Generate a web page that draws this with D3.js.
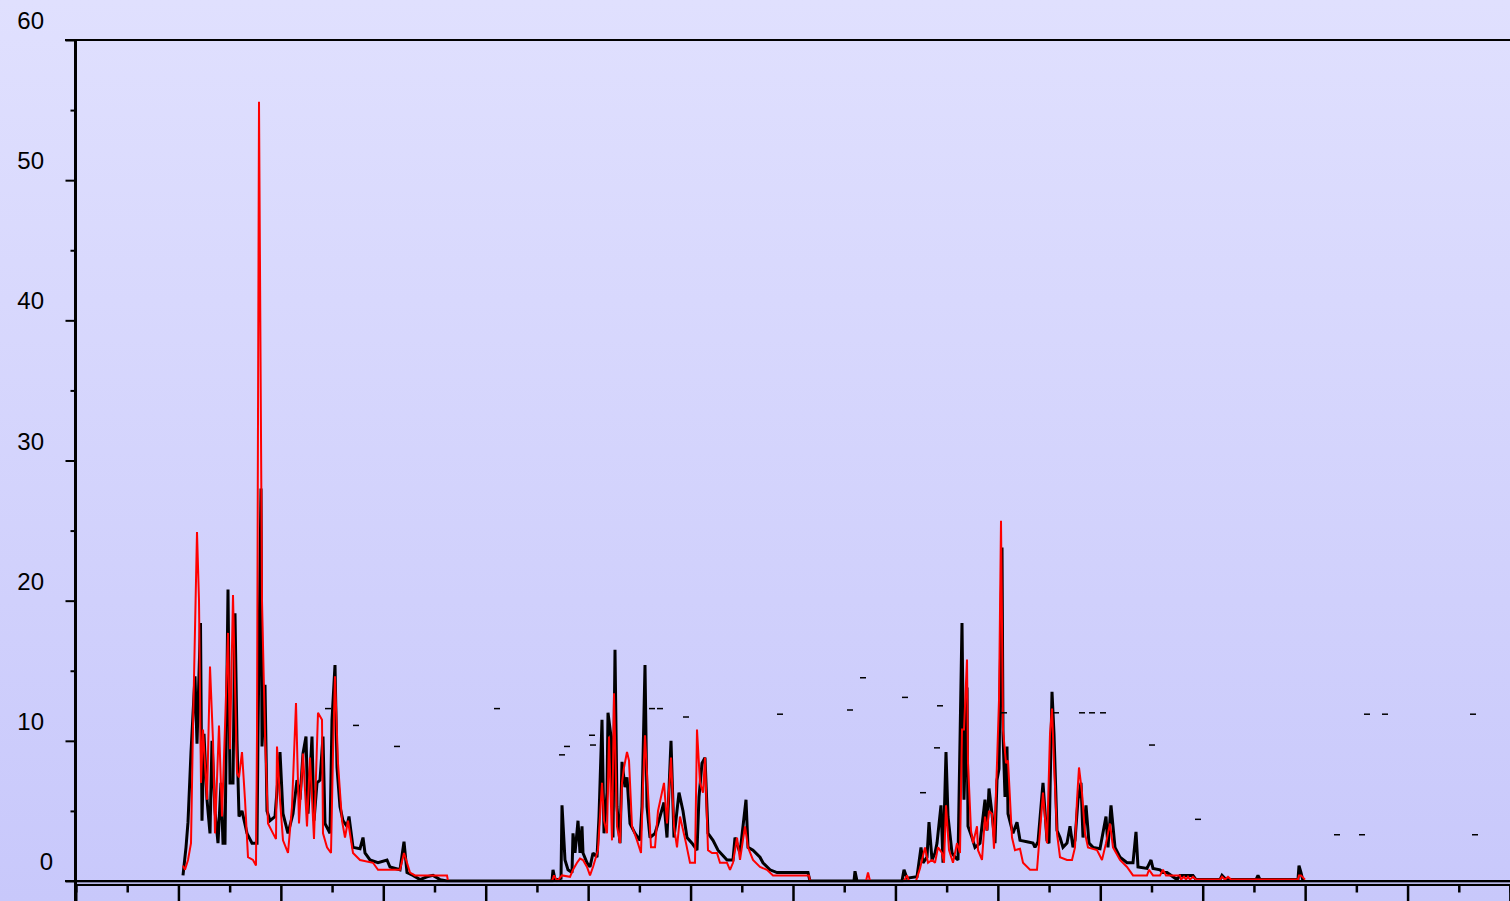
<!DOCTYPE html>
<html>
<head>
<meta charset="utf-8">
<script src="https://cdn.jsdelivr.net/npm/d3@7"></script>
<style>
html,body{margin:0;padding:0;overflow:hidden;}
svg{display:block;}
</style>
</head>
<body>
<svg id="chart" width="1510" height="901"></svg>
<script>
// ---- data (x = day index, y = value) ----
const yTicks = [0, 10, 20, 30, 40, 50, 60];
const yMinorTicks = [5, 15, 25, 35, 45, 55];

const observed = [
[107,0.4],[110,2.4],[112,4.2],[115,9.2],[119,14.6],[121,9.8],[124.5,18.4],[126,4.3],[128,10.5],[131,5.8],[134,3.4],[136,10],[139,5],[142,2.7],[145,7],[147,2.7],[149,2.7],[152,20.8],[154,7],[157,7],[159,19.1],[161,10],[163,4.6],[166,5],[171,3.4],[176,2.7],[181,2.7],[182,10.5],[185,28],[186,9.6],[189,14],[191,5],[194,4.3],[199,4.6],[204,9.2],[207,4.8],[212,3.4],[217,4.8],[221,7.2],[224,5.8],[227,9.1],[230,10.3],[232,4.8],[236,10.3],[238,4.3],[241,7],[244,7.2],[247,10.3],[249,4.1],[254,3.4],[256,11.5],[259,15.4],[261,8.1],[264,5.3],[267,4.3],[271,3.9],[273,4.6],[277,2.4],[284,2.3],[287,3.1],[289,2],[294,1.5],[302,1.3],[311,1.5],[314,1],[324,0.8],[328,2.8],[331,0.6],[337,0.4],[344,0.1],[351,0.3],[357,0.4],[364,0.1],[371,0],
[476,0],[477,0.8],[479,0.1],[485,0.2],[486,5.4],[489,1.5],[492,0.8],[496,0.6],[497,3.4],[499,2],[501,3.5],[502,4.3],[504,2],[506,3.9],[507,2],[511,1.3],[514,1],[517,2],[521,1.7],[523,4.6],[526,11.5],[528,3.4],[531,6.3],[532,12],[535,10.3],[537,3.1],[539,16.5],[541,5.3],[544,2.7],[546,8.5],[549,6.7],[551,7.4],[554,4.1],[559,3.4],[564,2.9],[566,5.3],[569,15.4],[571,5.3],[574,3.1],[579,3.4],[582,4.1],[588,5.6],[591,3.1],[595,10],[598,3.1],[603,6.3],[607,5],[611,3.1],[616,2.7],[621,2.2],[623,6],[626,8.4],[629,8.8],[632,3.4],[637,2.9],[642,2.2],[651,1.5],[657,1.5],[659,3.1],[664,2],[670,5.8],[672,2.4],[677,2.2],[684,1.7],[687,1.3],[694,0.8],[701,0.6],[732,0.6],[734,0],
[778,0],[779,0.7],[781,0],
[826,0],[828,0.8],[831,0.2],[841,0.3],[845,2.4],[847,1.3],[851,1.7],[853,4.2],[856,1.5],[859,2],[861,2.7],[865,5.4],[867,1.3],[870,9.2],[872,4.6],[876,2],[879,1.7],[882,1.5],[886,18.4],[888,5.8],[891,13.8],[892,3.9],[896,3.1],[899,2.4],[904,2.7],[909,5.8],[911,3.6],[913,6.6],[916,4.8],[919,2.7],[921,7.2],[923,8],[926,23.8],[927,10.5],[929,6],[931,9.6],[932,4.8],[937,3.4],[941,4.2],[944,2.9],[951,2.8],[957,2.7],[959,2.4],[962,2.8],[967,7],[971,2.9],[973,2.7],[976,13.5],[978,10.5],[981,3.6],[984,3.1],[987,2.4],[991,2.7],[994,3.9],[997,2.4],[999,2.9],[1002,5.8],[1005,7],[1007,3.1],[1010,5.4],[1013,2.7],[1017,2.4],[1024,2.3],[1030,4.6],[1032,2.4],[1035,5.4],[1039,2.4],[1044,1.7],[1051,1.3],[1057,1.3],[1060,3.5],[1062,1],[1071,0.9],[1075,1.5],[1077,0.9],[1084,0.8],[1087,0.6],[1091,0.6],[1101,0.1],[1104,0.4],[1117,0.4],[1120,0.1],[1144,0.1],[1146,0.4],[1150,0.1],[1180,0.1],[1182,0.4],[1184,0.1],[1222,0.1],[1223,1.1],[1225,0.6],[1227,0]
];

const simulated = [
[107,1.1],[109,0.8],[112,1.5],[115,2.7],[117,11],[121,24.9],[123,20],[125,7],[127,10.8],[131,5.8],[134,15.3],[137,10],[139,3.4],[143,11.1],[146,4.6],[149,11],[152,17.7],[154,9.4],[157,20.4],[161,7.7],[163,7.4],[166,9.2],[169,5.8],[172,1.7],[177,1.5],[180,1.1],[181,10.5],[183,55.6],[186,20],[189,10.5],[192,4.1],[197,3.4],[200,3],[201,9.6],[204,5.8],[207,2.9],[212,2],[216,5.3],[220,12.7],[223,4.1],[227,9.1],[231,3.9],[234,8.8],[238,3],[242,12],[246,11.5],[247,3.4],[251,2.4],[255,2],[257,9.1],[259,14.6],[262,8.4],[266,4.3],[269,3.1],[272,4.3],[277,2],[284,1.5],[297,1.3],[302,0.8],[314,0.8],[324,0.8],[328,2],[334,0.6],[339,0.4],[371,0.4],[372,0],
[476,0],[478,0.4],[481,0],[486,0.4],[494,0.3],[497,0.8],[501,1.3],[504,1.6],[507,1.5],[511,1],[514,0.4],[517,1],[522,2.2],[526,7],[528,4.3],[531,3.4],[533,10.3],[536,2.9],[538,13.4],[541,3.9],[544,2.7],[546,7],[548,8.1],[551,9.2],[553,8.6],[556,3.9],[561,2.9],[565,2],[567,6.8],[569,10.4],[572,6.3],[575,2.4],[579,2.4],[582,5],[588,7],[591,4.1],[595,8.8],[598,3.9],[601,2.4],[604,4.6],[610,2.7],[614,1.3],[619,1.3],[621,10.8],[624,7],[627,6.3],[629,8.8],[632,2.2],[636,2],[641,2],[644,1.3],[651,1.3],[654,0.8],[657,1.3],[661,3.1],[664,1.5],[669,3.9],[672,2.4],[677,1.5],[684,1],[691,0.8],[697,0.4],[733,0.4],[734,0],
[790,0],[792,0.6],[794,0],
[828,0],[831,0.4],[833,0],[840,0],[844,0.9],[849,2.4],[852,1.3],[856,1.5],[859,1.3],[862,2.4],[866,2],[868,1.3],[870,5.4],[873,2.2],[877,1.3],[881,2.7],[884,2],[886,10.8],[888,10.8],[891,15.8],[892,8.4],[895,3.6],[897,2.7],[901,3.9],[902,2.2],[906,1.5],[909,4.6],[911,3.6],[913,5],[916,4.8],[918,2.3],[921,8.4],[923,12.9],[925,25.7],[927,10.8],[930,8.4],[932,8.6],[936,3.1],[939,2.2],[944,2.3],[947,1.3],[954,0.8],[961,0.8],[967,6.3],[971,2.7],[974,10.5],[976,12.3],[978,8.4],[981,3.4],[984,1.7],[991,1.5],[996,1.5],[999,2.4],[1001,5.8],[1003,8.1],[1006,6.3],[1009,3.4],[1012,2.4],[1021,2.2],[1026,1.5],[1030,2.7],[1034,4.1],[1037,2.4],[1044,1.5],[1051,1],[1057,0.4],[1071,0.4],[1073,0.8],[1077,0.4],[1084,0.4],[1087,0.8],[1090,0.4],[1104,0.4],[1105,0.1],[1108,0.3],[1110,0.1],[1112,0.3],[1114,0.1],[1117,0.3],[1120,0.1],[1144,0.1],[1146,0.3],[1149,0.1],[1152,0.3],[1155,0.1],[1222,0.1],[1223,0.4],[1225,0.4],[1229,0.1]
];

// isolated fragments of a third (sparse) series
const fragments = [
[252,12.3],[280,11.1],[321,9.6],[421,12.3],[486,9],[491,9.6],[516,10.4],[517,9.7],[576,12.3],[584,12.3],[610,11.7],[704,11.9],[774,12.2],[787,14.5],[829,13.1],[847,6.3],[861,9.5],[864,12.5],[928,12],[980,12],[1006,12],[1016,12],[1027,12],[1076,9.7],[1122,4.4],[1261,3.3],[1286,3.3],[1291,11.9],[1309,11.9],[1397,11.9],[1399,3.3]
];

// ---- layout ----
const W = 1510, H = 901;
const svg = d3.select("#chart");
const defs = svg.append("defs");
const grad = defs.append("linearGradient").attr("id","bg").attr("x1",0).attr("y1",0).attr("x2",0).attr("y2",1);
grad.append("stop").attr("offset","0%").attr("stop-color","#e0e0fe");
grad.append("stop").attr("offset","100%").attr("stop-color","#c8c8fb");
svg.append("rect").attr("width",W).attr("height",H).attr("fill","url(#bg)");

const x = d3.scaleLinear().domain([0, 1434]).range([76, 1510]);
const y = d3.scaleLinear().domain([0, 60]).range([881, 40]);

// top frame line
svg.append("line").attr("x1",65).attr("x2",W).attr("y1",y(60)).attr("y2",y(60))
  .attr("stroke","#000").attr("stroke-width",2);

// data lines
const line = d3.line().x(d=>x(d[0])).y(d=>y(d[1]));
svg.append("path").datum(observed).attr("d",line)
  .attr("fill","none").attr("stroke","#000").attr("stroke-width",3).attr("stroke-linejoin","miter").attr("stroke-miterlimit",2);
svg.append("path").datum(simulated).attr("d",line)
  .attr("fill","none").attr("stroke","#ff0000").attr("stroke-width",2).attr("stroke-linejoin","miter").attr("stroke-miterlimit",2);

svg.append("g").selectAll("line").data(fragments).join("line")
  .attr("x1",d=>x(d[0])-3).attr("x2",d=>x(d[0])+3)
  .attr("y1",d=>y(d[1])).attr("y2",d=>y(d[1]))
  .attr("stroke","#000").attr("stroke-width",1.5);

// zero line + x axis (double rule)
svg.append("line").attr("x1",65).attr("x2",W).attr("y1",y(0)).attr("y2",y(0))
  .attr("stroke","#000").attr("stroke-width",2);
svg.append("line").attr("x1",76).attr("x2",W).attr("y1",882.7).attr("y2",882.7)
  .attr("stroke","#6f6f90").attr("stroke-width",1);
const xAxisY = 884.5;
const majorStep = 1434/14;
const xMajor = d3.range(1, 15).map(i => i*majorStep);
const xMinor = d3.range(0, 14).map(i => (i+0.5)*majorStep);
const xAxisMajor = d3.axisBottom(x).tickValues(xMajor).tickSize(17).tickFormat("");
const xAxisMinor = d3.axisBottom(x).tickValues(xMinor).tickSize(8).tickFormat("");
const gxM = svg.append("g").attr("transform",`translate(0,${xAxisY})`).call(xAxisMajor);
const gxm = svg.append("g").attr("transform",`translate(0,${xAxisY})`).call(xAxisMinor);
[gxM,gxm].forEach(g=>{
  g.select(".domain").attr("stroke","#000").attr("stroke-width",2);
  g.selectAll(".tick line").attr("stroke","#000").attr("stroke-width",2.5);
});

// y axis
const gy = svg.append("g").attr("transform","translate(75.5,0)")
  .call(d3.axisLeft(y).tickValues(yTicks).tickSize(10).tickSizeOuter(0).tickFormat(""));
gy.select(".domain").remove();
gy.selectAll(".tick line").attr("stroke","#000").attr("stroke-width",2);
svg.append("g").attr("transform","translate(75.5,0)")
  .call(d3.axisLeft(y).tickValues(yMinorTicks).tickSize(5).tickFormat(""))
  .call(g=>g.select(".domain").remove())
  .selectAll(".tick line").attr("stroke","#000").attr("stroke-width",2);
svg.append("line").attr("x1",75.5).attr("x2",75.5).attr("y1",39).attr("y2",H)
  .attr("stroke","#000").attr("stroke-width",3);

// y labels
svg.append("g").selectAll("text").data(yTicks).join("text")
  .attr("x", d => d === 0 ? 53 : 44)
  .attr("y", d => y(d) - 11)
  .attr("text-anchor","end")
  .attr("font-family","'Liberation Sans', Arial, sans-serif")
  .attr("font-size",24)
  .attr("fill","#000")
  .text(d=>d);
</script>
</body>
</html>
